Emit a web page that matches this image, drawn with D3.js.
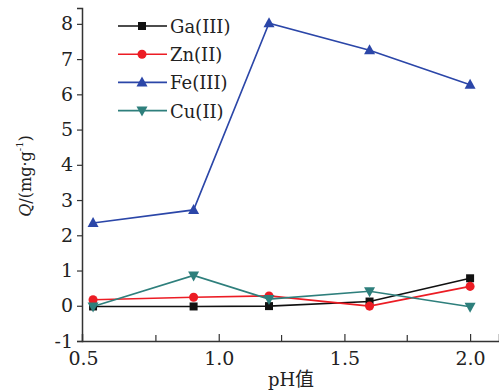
<!DOCTYPE html>
<html>
<head>
<meta charset="utf-8">
<script src="https://cdn.jsdelivr.net/npm/d3@7"></script>
<style>
  body { margin: 0; background: #fff; }
  svg { display: block; }
  svg text { fill: #222; }
</style>
</head>
<body>
<svg id="chart" width="499" height="392"></svg>
<script>
const pH = [0.5, 0.9, 1.2, 1.6, 2.0];
const ga = [-0.02, -0.02, -0.01, 0.12, 0.78];
const zn = [0.17, 0.24, 0.28, -0.01, 0.55];
const fe = [2.35, 2.72, 8.02, 7.25, 6.27];
const cu = [-0.02, 0.86, 0.19, 0.41, -0.03];
const seriesNames = ['Ga(III)', 'Zn(II)', 'Fe(III)', 'Cu(II)'];
const seriesColors = ['#111111', '#ec1c24', '#2b46a8', '#2e7f7c'];
const seriesMarkers = ['square', 'circle', 'up', 'down'];
const xTicks = [0.5, 1.0, 1.5, 2.0];
const xMinorTicks = [0.75, 1.25, 1.75];
const yTicks = [-1, 0, 1, 2, 3, 4, 5, 6, 7, 8];

const serif = 'DejaVu Serif';

const series = [ga, zn, fe, cu].map((vals, i) => ({
  name: seriesNames[i],
  color: seriesColors[i],
  marker: seriesMarkers[i],
  points: vals.map((v, j) => ({ x: pH[j], y: v })),
}));

const svg = d3.select('#chart').style('font-family', serif);
const x = d3.scaleLinear().domain([0.456, 2.115]).range([82, 499]);
const y = d3.scaleLinear().domain([-1, 8.45]).range([341, 8]);

function markerPath(type) {
  switch (type) {
    case 'square': return 'M-4,-4H4V4H-4Z';
    case 'up': return 'M0,-6L5.5,4H-5.5Z';
    case 'down': return 'M0,6L5.5,-4H-5.5Z';
    default: return d3.symbol(d3.symbolCircle, 64)();
  }
}

// axes
const yAxis = svg.append('g')
  .attr('transform', `translate(${x.range()[0]},0)`)
  .call(d3.axisLeft(y).tickValues(yTicks).tickSize(5).tickPadding(4).tickFormat((d) => String(d)));
yAxis.attr('font-family', null);
yAxis.select('.domain').attr('stroke', '#333').attr('stroke-width', 1.5);
yAxis.selectAll('.tick line').attr('stroke', '#333').attr('stroke-width', 1.2);
yAxis.selectAll('.tick text').attr('font-size', 19).attr('fill', '#222');

const xAxis = svg.append('g')
  .attr('transform', `translate(0,${y.range()[0]})`)
  .call(d3.axisBottom(x).tickValues(xTicks).tickSize(-7).tickPadding(11).tickFormat(d3.format('.1f')));
xAxis.attr('font-family', null);
xAxis.select('.domain').attr('stroke', '#333').attr('stroke-width', 1.5);
xAxis.selectAll('.tick line').attr('stroke', '#333').attr('stroke-width', 1.2)
  .filter((d) => d === 0.5).remove();
xAxis.selectAll('.tick text').attr('font-size', 19).attr('fill', '#222')
  .attr('dx', (d) => (d === 0.5 ? -10 : 0));

svg.append('g').selectAll('line')
  .data(xMinorTicks)
  .join('line')
  .attr('x1', (d) => x(d)).attr('x2', (d) => x(d))
  .attr('y1', y.range()[0]).attr('y2', y.range()[0] - 6)
  .attr('stroke', '#333').attr('stroke-width', 1.2);

// axis titles
const yTitle = svg.append('text')
  .attr('transform', 'translate(31,176) rotate(-90)')
  .attr('text-anchor', 'middle')
  .attr('font-size', 16);
yTitle.append('tspan').attr('font-style', 'italic').text('Q');
yTitle.append('tspan').text('/(mg·g');
yTitle.append('tspan').attr('font-size', 10).attr('dy', -8).text('-1');
yTitle.append('tspan').attr('dy', 8).text(')');

svg.append('text')
  .attr('x', 291).attr('y', 386)
  .attr('text-anchor', 'middle')
  .attr('font-size', 18)
  .text('pH')
  .append('tspan')
  .style('font-family', '"Noto Sans CJK SC"')
  .attr('font-size', 19)
  .text('值');

// lines + markers
const line = d3.line().x((d) => x(d.x)).y((d) => y(d.y));
const g = svg.append('g').selectAll('g')
  .data(series)
  .join('g');

g.append('path')
  .attr('d', (d) => line(d.points))
  .attr('fill', 'none')
  .attr('stroke', (d) => d.color)
  .attr('stroke-width', 1.6);

g.selectAll('path.mk')
  .data((d) => d.points.map((p) => ({ ...p, color: d.color, marker: d.marker })))
  .join('path')
  .attr('class', 'mk')
  .attr('transform', (d) => `translate(${x(d.x)},${y(d.y)})`)
  .attr('d', (d) => markerPath(d.marker))
  .attr('fill', (d) => d.color);

// legend
const legend = svg.append('g').selectAll('g')
  .data(series)
  .join('g')
  .attr('transform', (d, i) => `translate(118,${26 + i * 28.2})`);

legend.append('line')
  .attr('x1', 0).attr('x2', 49)
  .attr('stroke', (d) => d.color)
  .attr('stroke-width', 1.6);
legend.append('path')
  .attr('transform', 'translate(24,0)')
  .attr('d', (d) => markerPath(d.marker))
  .attr('fill', (d) => d.color);
legend.append('text')
  .attr('x', 52).attr('y', 7)
  .attr('font-size', 18)
  .text((d) => d.name);
</script>
</body>
</html>
